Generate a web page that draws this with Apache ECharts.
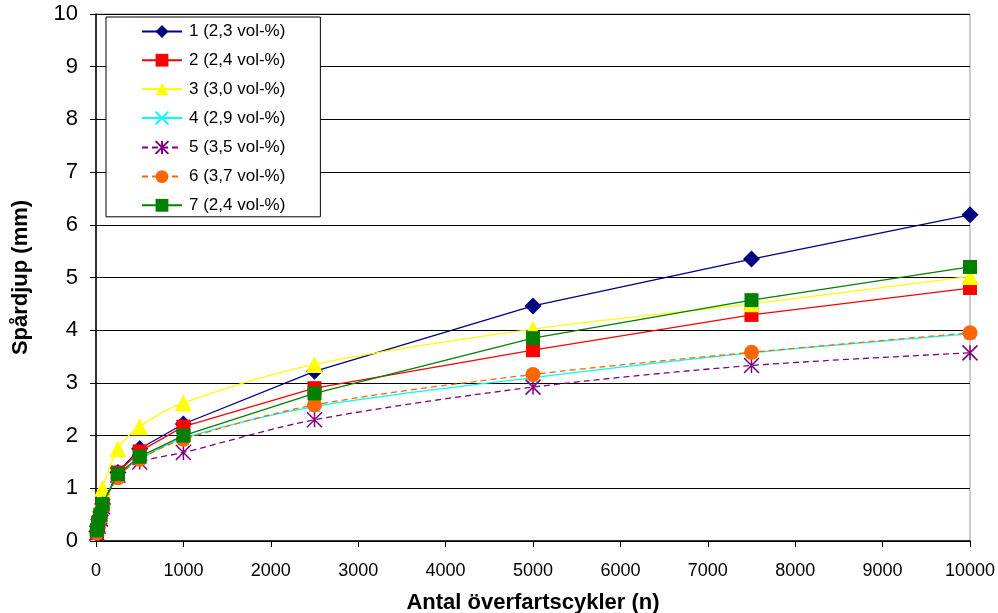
<!DOCTYPE html>
<html>
<head>
<meta charset="utf-8">
<script src="https://cdn.jsdelivr.net/npm/echarts@6/dist/echarts.min.js"></script>
<style>
  html, body { margin: 0; padding: 0; background: #fff; }
  #chart { width: 998px; height: 613px; }
</style>
</head>
<body>
<div id="chart"></div>
<script>
// Number of wheel passes (cycles)
const cycles = [10, 25, 50, 75, 250, 500, 1000, 2500, 5000, 7500, 10000];

// Rut depth (mm) per mixture
const names = ['1 (2,3 vol-%)', '2 (2,4 vol-%)', '3 (3,0 vol-%)', '4 (2,9 vol-%)',
               '5 (3,5 vol-%)', '6 (3,7 vol-%)', '7 (2,4 vol-%)'];
const depth1 = [0.18, 0.32, 0.48, 0.70, 1.30, 1.75, 2.22, 3.22, 4.46, 5.35, 6.19];
const depth2 = [0.15, 0.30, 0.45, 0.68, 1.30, 1.70, 2.17, 2.90, 3.62, 4.29, 4.80];
const depth3 = [0.25, 0.45, 0.70, 1.00, 1.75, 2.17, 2.62, 3.35, 4.02, 4.50, 5.02];
const depth4 = [0.15, 0.28, 0.45, 0.68, 1.25, 1.55, 1.95, 2.55, 3.10, 3.57, 3.93];
const depth5 = [0.15, 0.28, 0.42, 0.65, 1.25, 1.50, 1.68, 2.30, 2.92, 3.33, 3.57];
const depth6 = [0.15, 0.28, 0.42, 0.65, 1.20, 1.55, 1.93, 2.58, 3.16, 3.58, 3.95];
const depth7 = [0.20, 0.35, 0.50, 0.70, 1.27, 1.60, 2.00, 2.80, 3.85, 4.57, 5.20];

const yTicks = [0, 1, 2, 3, 4, 5, 6, 7, 8, 9, 10];
const xTicks = [0, 1000, 2000, 3000, 4000, 5000, 6000, 7000, 8000, 9000, 10000];

const styles = [
  { data: depth1, color: '#000080', symbol: 'diamond', size: 17, type: 'solid', smooth: false },
  { data: depth2, color: '#ff0000', symbol: 'rect', size: 14, type: 'solid', smooth: false },
  { data: depth3, color: '#ffff00', symbol: 'triangle', size: 17, type: 'solid', smooth: 0.3 },
  { data: depth4, color: '#00ffff', symbol: 'path://M0,0L10,10M10,0L0,10', size: 11, type: 'solid', smooth: 0.3, hollow: true },
  { data: depth5, color: '#800080', symbol: 'path://M0,0L10,10M10,0L0,10M5,0L5,10', size: 15, type: [6, 4], smooth: 0.3, hollow: true },
  { data: depth6, color: '#ff6600', symbol: 'circle', size: 15, type: [6, 4], smooth: 0.3 },
  { data: depth7, color: '#008000', symbol: 'rect', size: 14, type: 'solid', smooth: false }
];

const series = styles.map((s, i) => ({
  name: names[i],
  type: 'line',
  data: cycles.map((c, j) => [c, s.data[j]]),
  symbol: s.symbol,
  symbolSize: s.size,
  smooth: s.smooth,
  itemStyle: s.hollow
    ? { color: 'none', borderColor: s.color, borderWidth: 1.5 }
    : { color: s.color, borderColor: s.color, borderWidth: 0 },
  lineStyle: { color: s.color, width: 1.3, type: s.type },
  emphasis: { disabled: true },
  z: 3 + i
}));

const chart = echarts.init(document.getElementById('chart'), null, { renderer: 'canvas' });
chart.setOption({
  animation: false,
  backgroundColor: '#ffffff',
  textStyle: { fontFamily: 'Liberation Sans, Arial, sans-serif', color: '#000' },
  grid: {
    left: 96, right: 28, top: 14, bottom: 72,
    outerBoundsMode: 'none', containLabel: false,
    show: true, borderColor: '#999', borderWidth: 1
  },
  legend: {
    orient: 'vertical',
    left: 106, top: 17,
    backgroundColor: '#fff',
    borderColor: '#000', borderWidth: 1,
    borderRadius: 0,
    padding: [6, 35, 3, 35],
    itemWidth: 40, itemHeight: 16, itemGap: 11.7,
    textStyle: { fontSize: 17, color: '#000', fontFamily: 'Liberation Sans, Arial, sans-serif', padding: [0, 0, 0, 2] },
    data: names
  },
  xAxis: {
    type: 'value',
    min: 0, max: 10000, interval: 1000,
    name: 'Antal överfartscykler (n)',
    nameLocation: 'middle', nameGap: 51,
    nameTextStyle: { fontSize: 22, fontWeight: 'bold', color: '#000' },
    axisLine: { lineStyle: { color: '#000', width: 1.5 } },
    axisTick: { show: true, length: 6, lineStyle: { color: '#000' } },
    axisLabel: { fontSize: 18, color: '#000', margin: 21,
                 formatter: v => (xTicks.indexOf(v) >= 0 ? String(v) : '') },
    splitLine: { show: false }
  },
  yAxis: {
    type: 'value',
    min: 0, max: 10, interval: 1,
    name: 'Spårdjup (mm)',
    nameLocation: 'middle', nameGap: 64, nameRotate: 90,
    nameTextStyle: { fontSize: 22, fontWeight: 'bold', color: '#000' },
    axisLine: { show: true, lineStyle: { color: '#000', width: 1.5 } },
    axisTick: { show: true, length: 6, lineStyle: { color: '#000' } },
    axisLabel: { fontSize: 22, color: '#000', margin: 18,
                 formatter: v => (yTicks.indexOf(v) >= 0 ? String(v) : '') },
    splitLine: { show: true, lineStyle: { color: '#000', width: 1.2 } }
  },
  series: series
});
</script>
</body>
</html>
